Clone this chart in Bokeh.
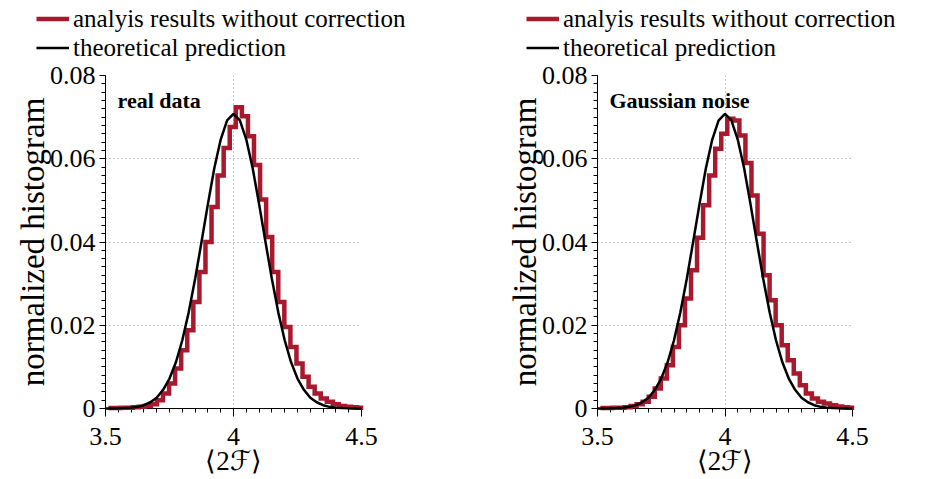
import numpy as np
from bokeh.plotting import figure
from bokeh.layouts import row, column
from bokeh.models import FixedTicker, Legend, LegendItem, Label
from bokeh.embed import file_html
from bokeh.resources import INLINE

# ---------------- data ----------------
bin_edges = [3.5113, 3.5350, 3.5587, 3.5824, 3.6061, 3.6298, 3.6535, 3.6772, 3.7009,
             3.7246, 3.7483, 3.7720, 3.7957, 3.8194, 3.8431, 3.8668, 3.8905, 3.9142,
             3.9379, 3.9616, 3.9853, 4.0090, 4.0327, 4.0564, 4.0801, 4.1038, 4.1275,
             4.1512, 4.1749, 4.1986, 4.2223, 4.2460, 4.2697, 4.2934, 4.3171, 4.3408,
             4.3645, 4.3882, 4.4119, 4.4356, 4.4593, 4.4830, 4.5067]

real_hist = [0.0001, 0.0001, 0.0002, 0.0002, 0.0003, 0.0004, 0.0006, 0.0010, 0.0020,
             0.0036, 0.0060, 0.0096, 0.0140, 0.0188, 0.0256, 0.0328, 0.0400, 0.0484,
             0.0560, 0.0626, 0.0676, 0.0724, 0.0702, 0.0654, 0.0585, 0.0502, 0.0412,
             0.0328, 0.0256, 0.0196, 0.0148, 0.0108, 0.0076, 0.0052, 0.0036, 0.0024,
             0.0016, 0.0010, 0.0006, 0.0004, 0.0003, 0.0002]

noise_hist = [0.0001, 0.0001, 0.0002, 0.0002, 0.0003, 0.0006, 0.0010, 0.0016, 0.0028,
              0.0048, 0.0072, 0.0104, 0.0148, 0.0200, 0.0264, 0.0332, 0.0410, 0.0488,
              0.0560, 0.0624, 0.0660, 0.0696, 0.0692, 0.0656, 0.0590, 0.0512, 0.0420,
              0.0320, 0.0260, 0.0200, 0.0152, 0.0116, 0.0084, 0.0056, 0.0036, 0.0024,
              0.0016, 0.0012, 0.0008, 0.0005, 0.0003, 0.0002]

theory_x = [3.5, 3.525, 3.55, 3.575, 3.6, 3.625, 3.65, 3.675, 3.7, 3.725, 3.75, 3.775,
            3.8, 3.825, 3.85, 3.875, 3.9, 3.925, 3.95, 3.975, 4.0, 4.025, 4.05, 4.075,
            4.1, 4.125, 4.15, 4.175, 4.2, 4.225, 4.25, 4.275, 4.3, 4.325, 4.35, 4.375,
            4.4, 4.425, 4.45, 4.475, 4.5]
theory_y = [0.00001, 0.00002, 0.00004, 0.0001, 0.0002, 0.0004, 0.0008, 0.0015, 0.0026,
            0.0045, 0.0072, 0.0111, 0.0164, 0.0231, 0.0311, 0.0400, 0.0491, 0.0577,
            0.0646, 0.0692, 0.0708, 0.0692, 0.0646, 0.0577, 0.0491, 0.0400, 0.0311,
            0.0231, 0.0164, 0.0111, 0.0072, 0.0045, 0.0026, 0.0015, 0.0008, 0.0004,
            0.0002, 0.0001, 0.00004, 0.00002, 0.00001]

x_ticks = [3.5, 4.0, 4.5]
x_tick_labels = ["3.5", "4", "4.5"]
y_ticks = [0.0, 0.02, 0.04, 0.06, 0.08]
y_tick_labels = ["0", "0.02", "0.04", "0.06", "0.08"]
panel_titles = ["real data", "Gaussian noise"]
legend_labels = ["analyis results without correction", "theoretical prediction"]
x_label = "\u27e82\u2131\u27e9"
y_label = "normalized histogram"

# ---------------- style ----------------
RED = "#a8192e"
FONT = "Liberation Serif"
LEG_H = 62


def make_panel(hist, title, width, border_left, border_right):
    p = figure(width=width, height=479 - LEG_H, x_range=(3.5, 4.5), y_range=(0, 0.08),
               output_backend="svg", toolbar_location=None,
               min_border_left=border_left, min_border_right=border_right,
               min_border_top=75 - LEG_H, min_border_bottom=71)
    p.outline_line_color = None
    p.background_fill_color = "white"
    p.border_fill_color = "white"

    x_minor = [round(v, 3) for v in np.arange(3.5, 4.5001, 0.05)]
    y_minor = [round(v, 4) for v in np.arange(0.0, 0.08001, 0.002)]
    p.xaxis.ticker = FixedTicker(ticks=x_ticks, minor_ticks=x_minor)
    p.yaxis.ticker = FixedTicker(ticks=y_ticks, minor_ticks=y_minor)
    p.xaxis.major_label_overrides = {t: l for t, l in zip(x_ticks, x_tick_labels)}
    p.yaxis.major_label_overrides = {t: l for t, l in zip(y_ticks, y_tick_labels)}

    for ax in (p.xaxis[0], p.yaxis[0]):
        ax.axis_line_color = "black"
        ax.axis_line_width = 1
        ax.major_tick_line_color = "black"
        ax.minor_tick_line_color = "black"
        ax.major_tick_in = 0
        ax.minor_tick_in = 0
        ax.major_label_text_font = FONT
        ax.major_label_text_font_size = "26px"
        ax.major_label_text_color = "black"
        ax.axis_label_text_font = FONT
        ax.axis_label_text_font_style = "normal"
        ax.axis_label_text_color = "black"
    p.xaxis.major_tick_out = 8
    p.xaxis.minor_tick_out = 4
    p.yaxis.major_tick_out = 6
    p.yaxis.minor_tick_out = 4
    p.xaxis.major_label_standoff = 11
    p.yaxis.major_label_standoff = 4
    p.xaxis.axis_label = x_label
    p.xaxis.axis_label_text_font_size = "27px"
    p.xaxis.axis_label_standoff = -2
    p.yaxis.axis_label = y_label
    p.yaxis.axis_label_text_font_size = "33px"
    p.yaxis.axis_label_standoff = -4

    p.xgrid.ticker = FixedTicker(ticks=[4.0, 4.5])
    p.ygrid.ticker = FixedTicker(ticks=[0.02, 0.04, 0.06, 0.08])
    for g in (p.xgrid[0], p.ygrid[0]):
        g.grid_line_color = "#8c8c8c"
        g.grid_line_dash = "1 3"
        g.grid_line_width = 1

    p.step(x=bin_edges, y=list(hist) + [hist[-1]], mode="after",
           line_color=RED, line_width=4.5, line_join="miter", level="overlay")
    p.line(x=theory_x, y=theory_y, line_color="black", line_width=2.5,
           level="overlay")

    p.add_layout(Label(x=3.547, y=0.0739, text=title, text_font=FONT,
                       text_font_size="22px", text_font_style="bold",
                       text_color="black", text_baseline="alphabetic"))
    return p


def make_legend(width, glyph_x):
    q = figure(width=width, height=LEG_H, x_range=(0, 1), y_range=(0, 1),
               output_backend="svg", toolbar_location=None,
               min_border=0, min_border_left=0, min_border_right=0,
               min_border_top=0, min_border_bottom=0)
    q.xaxis.visible = False
    q.yaxis.visible = False
    q.xgrid.visible = False
    q.ygrid.visible = False
    q.outline_line_color = None
    q.background_fill_color = "white"
    q.border_fill_color = "white"
    # renderers kept outside the visible range: only their legend glyphs show
    r1 = q.line(x=[-10, -9], y=[-10, -10], line_color=RED, line_width=4.5)
    r2 = q.line(x=[-10, -9], y=[-10, -10], line_color="black", line_width=2.5)
    legend = Legend(items=[LegendItem(label=legend_labels[0], renderers=[r1]),
                           LegendItem(label=legend_labels[1], renderers=[r2])],
                    location=(glyph_x, 0), orientation="vertical",
                    label_text_font=FONT, label_text_font_size="25px",
                    label_text_color="black", glyph_width=33, glyph_height=29,
                    label_height=29, label_standoff=4, spacing=0, padding=0,
                    margin=0, border_line_color=None, background_fill_alpha=0)
    q.add_layout(legend, "center")
    return q


W_LEFT = 428
W_RIGHT = 930 - W_LEFT
p1 = make_panel(real_hist, panel_titles[0], W_LEFT, 105, W_LEFT - 105 - 256)
p2 = make_panel(noise_hist, panel_titles[1], W_RIGHT, 597 - W_LEFT,
                W_RIGHT - (597 - W_LEFT) - 255)
l1 = make_legend(W_LEFT, 36)
l2 = make_legend(W_RIGHT, 526 - W_LEFT)

layout = column(row(l1, l2), row(p1, p2))
open("out.html", "w").write(file_html(layout, INLINE))
